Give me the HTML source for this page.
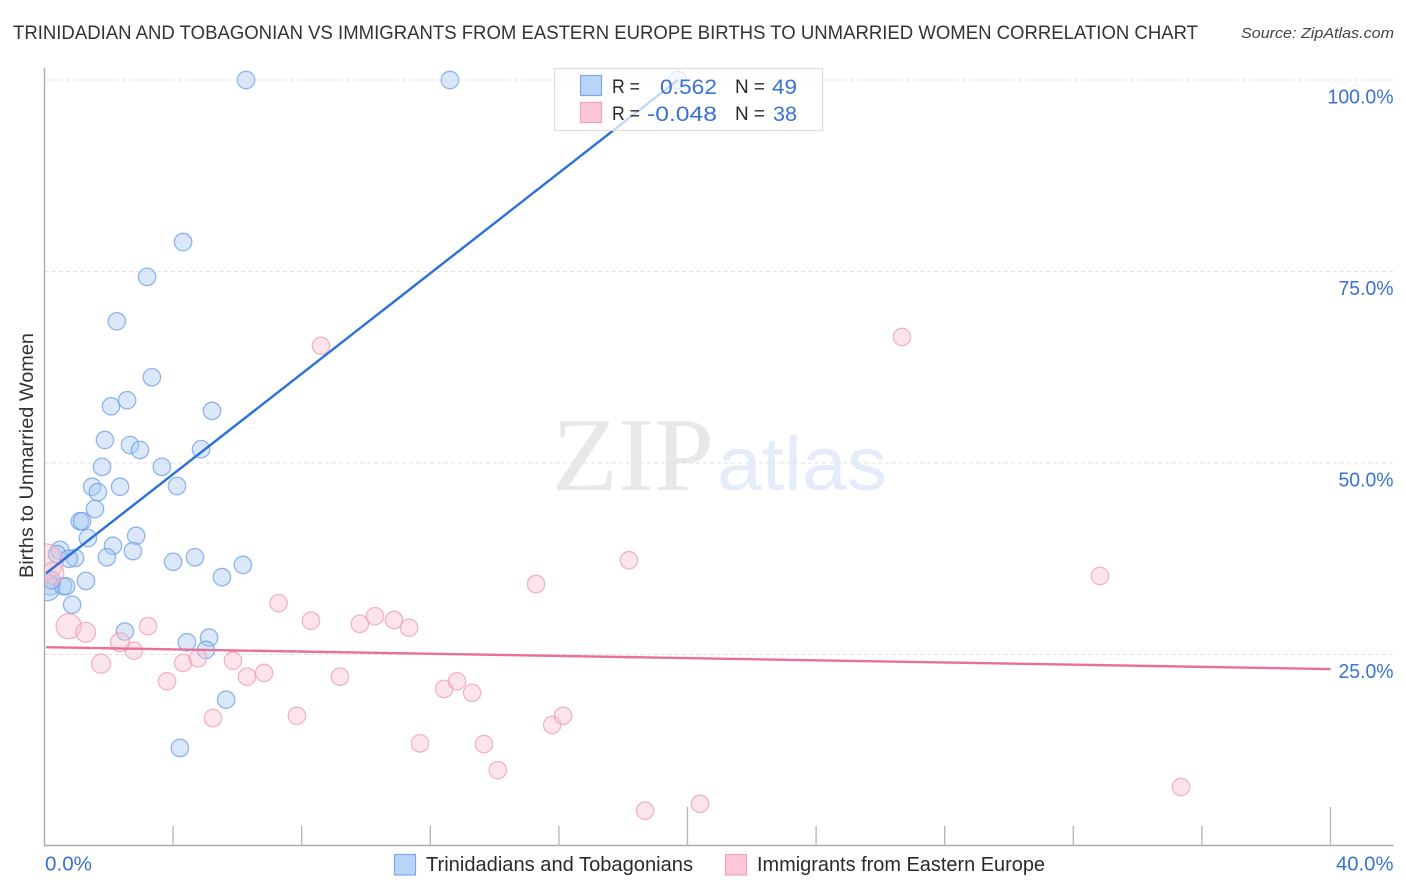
<!DOCTYPE html>
<html lang="en">
<head>
<meta charset="utf-8">
<title>Births to Unmarried Women Correlation Chart</title>
<style>
html,body{margin:0;padding:0;background:#fff;}
svg{display:block;font-family:"Liberation Sans",sans-serif;}
</style>
</head>
<body>
<svg id="chart" xmlns="http://www.w3.org/2000/svg" width="1406" height="892" viewBox="0 0 1406 892">
  <defs>
    <clipPath id="plot-clip"><rect x="45" y="60" width="1360" height="786"/></clipPath>
  </defs>
  <rect x="0" y="0" width="1406" height="892" fill="#ffffff"/>
  <text x="13" y="39" font-size="19.5" fill="#333333" textLength="1185" lengthAdjust="spacingAndGlyphs">TRINIDADIAN AND TOBAGONIAN VS IMMIGRANTS FROM EASTERN EUROPE BIRTHS TO UNMARRIED WOMEN CORRELATION CHART</text>
  <text x="1241" y="38" font-size="15" font-style="italic" fill="#444" textLength="153" lengthAdjust="spacingAndGlyphs">Source: ZipAtlas.com</text>
  <g>
    <text x="552" y="490" font-family="'Liberation Serif',serif" font-size="105" fill="#e8e8e8" textLength="162" lengthAdjust="spacingAndGlyphs">ZIP</text>
    <text x="717" y="490" font-size="76" fill="#e5ecf9" textLength="170" lengthAdjust="spacingAndGlyphs">atlas</text>
  </g>
  <g id="grid"></g>
  <g id="axes"></g>
  <g id="blue-points" clip-path="url(#plot-clip)"></g>
  <g id="pink-points" clip-path="url(#plot-clip)"></g>
  <g id="trends"></g>
  <g id="labels"></g>
  <text transform="translate(33,578) rotate(-90)" x="0" y="0" font-size="19" fill="#333333" textLength="245" lengthAdjust="spacingAndGlyphs">Births to Unmarried Women</text>

  <g>
    <rect x="554.5" y="68.5" width="268" height="62" fill="#ffffff" fill-opacity="0.72" stroke="#dcdcdc" stroke-width="1.2"/>
    <rect x="580.5" y="75.5" width="21" height="20" fill="#b8d4f8" stroke="#7ea8e8" stroke-width="1.2"/>
    <rect x="580.5" y="102.5" width="21" height="20" fill="#fcc8d8" stroke="#f0a0bc" stroke-width="1.2"/>
    <text x="612" y="93" font-size="19" fill="#2a2a2a" textLength="28" lengthAdjust="spacingAndGlyphs">R =</text>
    <text x="660" y="94" font-size="21.5" fill="#3a72d4" textLength="57" lengthAdjust="spacingAndGlyphs">0.562</text>
    <text x="735" y="93" font-size="19" fill="#2a2a2a" textLength="30" lengthAdjust="spacingAndGlyphs">N =</text>
    <text x="772" y="94" font-size="21.5" fill="#3a72d4" textLength="25" lengthAdjust="spacingAndGlyphs">49</text>
    <text x="612" y="120" font-size="19" fill="#2a2a2a" textLength="28" lengthAdjust="spacingAndGlyphs">R =</text>
    <text x="647" y="121" font-size="21.5" fill="#3a72d4" textLength="70" lengthAdjust="spacingAndGlyphs">-0.048</text>
    <text x="735" y="120" font-size="19" fill="#2a2a2a" textLength="30" lengthAdjust="spacingAndGlyphs">N =</text>
    <text x="773" y="121" font-size="21.5" fill="#3a72d4" textLength="24" lengthAdjust="spacingAndGlyphs">38</text>
  </g>

  <g>
    <rect x="394.5" y="854.5" width="21" height="20.5" fill="#b8d4f8" stroke="#7ea8e8" stroke-width="1.2"/>
    <text x="426" y="871" font-size="20" fill="#2a2a2a" textLength="267" lengthAdjust="spacingAndGlyphs">Trinidadians and Tobagonians</text>
    <rect x="725.5" y="854.5" width="21" height="20.5" fill="#fcc8d8" stroke="#f0a0bc" stroke-width="1.2"/>
    <text x="757" y="871" font-size="20" fill="#2a2a2a" textLength="288" lengthAdjust="spacingAndGlyphs">Immigrants from Eastern Europe</text>
  </g>
</svg>
<script>
const xTickValues = [0, 4, 8, 12, 16, 20, 24, 28, 32, 36, 40];
const yTickValues = [25, 50, 75, 100];
const yTickLabels = ["25.0%", "50.0%", "75.0%", "100.0%"];
const xEndLabels = ["0.0%", "40.0%"];
const blueX = [6.27,12.61,19.7,4.31,3.19,2.25,3.34,2.57,2.07,5.21,1.88,2.66,2.97,4.87,1.79,3.65,1.48,2.35,1.66,4.12,1.57,1.1,1.17,1.35,2.85,2.13,2.75,1.94,4.0,4.68,6.17,5.52,0.48,0.39,0.95,0.76,1.29,0.17,0.08,0.58,0.67,0.86,2.5,4.43,5.12,5.02,5.65,4.21,0.23];
const blueY = [100,100,100,78.85,74.3,68.5,61.2,58.2,57.4,56.8,53,52.35,51.7,51.8,49.5,49.5,46.9,46.9,46.2,47,44,42.4,42.4,40.2,40.5,39.2,38.5,37.7,37.1,37.7,36.7,35.1,38.6,38.1,37.6,37.5,34.6,34.1,33.7,33.9,33.9,31.5,28,26.6,27.2,25.6,19.1,12.8,34.7];
const blueWeight = [1,1,1,1,1,1,1,1,1,1,1,1,1,1,1,1,1,1,1,1,1,1,1,1,1,1,1,1,1,1,1,1,1.1,1,1,1,1,1.4,2.2,1,1,1,1,1,1,1,1,1,1];
const pinkX = [8.6,26.67,0.02,0.26,0.75,1.28,2.35,3.22,2.78,1.76,3.81,4.31,4.77,5.86,6.3,6.83,7.28,8.29,9.81,10.28,10.87,11.34,9.19,7.85,5.24,11.68,12.43,12.83,13.3,13.67,14.1,15.79,16.13,15.29,18.18,18.68,20.39,32.83,35.35];
const pinkY = [65.3,66.45,37.1,35.6,28.7,27.9,26.6,28.7,25.5,23.8,21.5,23.9,24.5,24.2,22.1,22.6,31.7,29.4,29,30,29.5,28.5,22.1,17,16.7,13.4,20.5,21.5,20,13.3,9.9,15.8,17,34.2,37.3,4.6,5.5,35.25,7.7];
const pinkWeight = [1,1,4.3,1.6,2.06,1.3,1.2,1,1,1.2,1,1,1,1,1,1,1,1,1,1,1,1,1,1,1,1,1,1,1,1,1,1,1,1,1,1,1,1,1];
const blueTrendX = [0.05, 19.7];
const blueTrendY = [35.6, 100];
const pinkTrendX = [0.05, 40];
const pinkTrendY = [25.95, 23.1];

const NS = "http://www.w3.org/2000/svg";
function xScale(v) { return 44.5 + v * 32.15; }
function yScale(v) { return 846 - v * 7.66; }
function make(tag, attrs, parent) {
  const el = document.createElementNS(NS, tag);
  for (const k in attrs) el.setAttribute(k, attrs[k]);
  parent.appendChild(el);
  return el;
}
const grid = document.getElementById("grid");
const axes = document.getElementById("axes");
const labels = document.getElementById("labels");
const trends = document.getElementById("trends");

yTickValues.forEach(function (v, i) {
  const line = make("line", {x1: 45, x2: 1393, y1: yScale(v), y2: yScale(v), stroke: "#e2e2e2", "stroke-width": 1, "stroke-dasharray": "4 3"}, grid);
  
  
  const t = make("text", {x: 1393.5, y: yScale(v) + 23.5, "text-anchor": "end", "font-size": 20, fill: "#3a72d4", textLength: yTickLabels[i].length === 6 ? 66 : 55, lengthAdjust: "spacingAndGlyphs"}, labels);
  
  
  t.textContent = yTickLabels[i];
});

const yAxis = make("line", {x1: 44.5, x2: 44.5, y1: 68, y2: 846, stroke: "#aaaaaa", "stroke-width": 1.4}, axes);


const xAxis = make("line", {x1: 44, x2: 1393.5, y1: 845.5, y2: 845.5, stroke: "#aaaaaa", "stroke-width": 1.4}, axes);



xTickValues.slice(1).forEach(function (v) {
  const top = v % 20 === 0 ? 807 : 826;
  const tick = make("line", {x1: xScale(v), x2: xScale(v), y1: top, y2: 846, stroke: "#b4b4b4", "stroke-width": 1.3}, axes);
  
  
});

const xLabelLeft = make("text", {x: 45, y: 870.5, "font-size": 20, fill: "#3a72d4", textLength: 47, lengthAdjust: "spacingAndGlyphs"}, labels);


xLabelLeft.textContent = xEndLabels[0];
const xLabelRight = make("text", {x: 1336, y: 870.5, "font-size": 20, fill: "#3a72d4", textLength: 57.5, lengthAdjust: "spacingAndGlyphs"}, labels);


xLabelRight.textContent = xEndLabels[1];

function radius(w) { return 8.7 * Math.sqrt(w); }

const blueGroup = document.getElementById("blue-points");
blueX.forEach(function (v, i) {
  const c = make("circle", {cx: xScale(v), cy: yScale(blueY[i]), r: radius(blueWeight[i]), fill: "#a8c8f4", "fill-opacity": 0.42, stroke: "#6f9fe6", "stroke-opacity": 0.75, "stroke-width": 1.3}, blueGroup);
  
  
});

const pinkGroup = document.getElementById("pink-points");
pinkX.forEach(function (v, i) {
  const c = make("circle", {cx: xScale(v), cy: yScale(pinkY[i]), r: radius(pinkWeight[i]), fill: "#f8bfd0", "fill-opacity": 0.42, stroke: "#ee9db8", "stroke-opacity": 0.75, "stroke-width": 1.3}, pinkGroup);
  
  
});

const blueTrend = make("line", {x1: xScale(blueTrendX[0]), y1: yScale(blueTrendY[0]), x2: xScale(blueTrendX[1]), y2: yScale(blueTrendY[1]), stroke: "#2b70d8", "stroke-width": 2.4}, trends);


const pinkTrend = make("line", {x1: xScale(pinkTrendX[0]), y1: yScale(pinkTrendY[0]), x2: xScale(pinkTrendX[1]), y2: yScale(pinkTrendY[1]), stroke: "#e96f9b", "stroke-width": 2.4}, trends);


</script>
</body>
</html>
